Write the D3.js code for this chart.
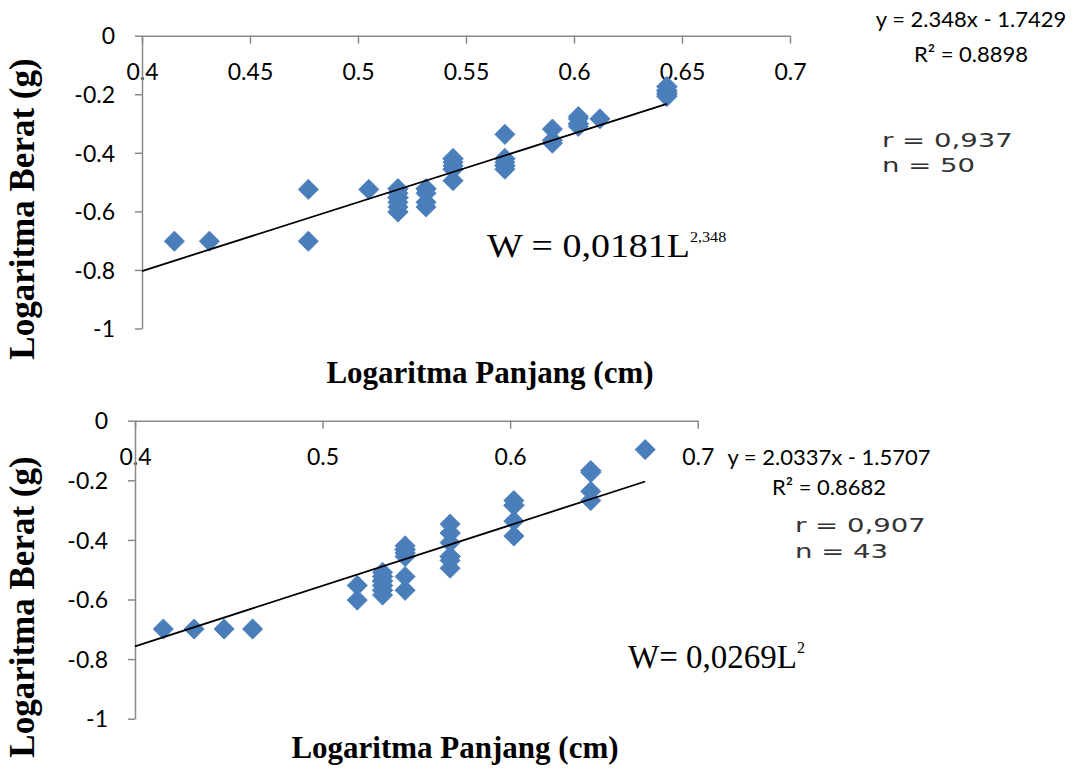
<!DOCTYPE html>
<html><head><meta charset="utf-8">
<script src="https://cdn.jsdelivr.net/npm/d3@7"></script>
<style>body{margin:0;background:#fff} svg{display:block;background:#fff}</style>
</head><body>
<svg id="c" width="1085" height="770"></svg>
<script>
// ---------- DATA ----------
const topLogL = [0.415,0.4312,0.477,0.477,0.505,
  0.5185,0.5185,0.5185,0.5185,0.5185,0.5185,0.5185,0.5185,0.5185,
  0.5315,0.5315,0.5315,0.5315,0.5315,
  0.544,0.544,0.544,0.544,0.544,0.544,0.544,
  0.568,0.568,0.568,0.568,0.568,0.568,0.568,
  0.590,0.590,0.590,
  0.602,0.602,0.602,0.602,0.602,
  0.612,
  0.643,0.643,0.643,0.643,0.643,0.643,0.643,0.643];
const topLogW = [-0.702,-0.702,-0.525,-0.702,-0.525,
  -0.523,-0.538,-0.553,-0.569,-0.585,-0.602,-0.523,-0.553,-0.602,
  -0.523,-0.538,-0.569,-0.585,-0.523,
  -0.42,-0.432,-0.444,-0.456,-0.495,-0.42,-0.456,
  -0.337,-0.42,-0.432,-0.444,-0.456,-0.42,-0.444,
  -0.319,-0.357,-0.367,
  -0.276,-0.284,-0.301,-0.31,-0.301,
  -0.284,
  -0.174,-0.187,-0.194,-0.201,-0.208,-0.187,-0.201,-0.174];
const botLogL = [0.4151,0.4315,0.4475,0.4627,
  0.5185,0.5185,
  0.532,0.532,0.532,0.532,0.532,0.532,0.532,0.532,0.532,0.532,
  0.544,0.544,0.544,0.544,0.544,0.544,0.544,0.544,
  0.568,0.568,0.568,0.568,0.568,0.568,0.568,0.568,
  0.602,0.602,0.602,0.602,0.602,
  0.643,0.643,0.643,0.643,0.643,
  0.672];
const botLogW = [-0.699,-0.699,-0.699,-0.699,
  -0.553,-0.602,
  -0.509,-0.523,-0.538,-0.553,-0.569,-0.585,-0.523,-0.538,-0.553,-0.569,
  -0.42,-0.432,-0.444,-0.456,-0.523,-0.569,-0.432,-0.444,
  -0.347,-0.377,-0.409,-0.456,-0.469,-0.495,-0.377,-0.456,
  -0.268,-0.284,-0.337,-0.387,-0.284,
  -0.168,-0.174,-0.237,-0.268,-0.168,
  -0.097];
const xTicksTop = [0.4,0.45,0.5,0.55,0.6,0.65,0.7];
const xTicksBot = [0.4,0.5,0.6,0.7];
const yTicks = [0,-0.2,-0.4,-0.6,-0.8,-1];
const topFit = {slope:2.348, intercept:-1.7429};
const botFit = {slope:2.0337, intercept:-1.5707};
const topTexts = ["y = 2.348x - 1.7429","R² = 0.8898","r = 0,937","n = 50"];
const botTexts = ["y = 2.0337x - 1.5707","R² = 0.8682","r = 0,907","n = 43"];

// ---------- DRAW ----------
const svg = d3.select("#c");
const diamond = {draw(ctx,size){const r=Math.sqrt(size/2);ctx.moveTo(0,-r);ctx.lineTo(r,0);ctx.lineTo(0,r);ctx.lineTo(-r,0);ctx.closePath();}};
const fmt = d => String(d);

function panel(o){
  const g = svg.append("g");
  const x = d3.scaleLinear().domain([0.4,0.7]).range([o.x0,o.x1]);
  const y = d3.scaleLinear().domain([-1,0]).range([o.y1,o.y0]);
  const xa = g.append("g").attr("transform",`translate(0,${y(0)})`)
    .call(d3.axisBottom(x).tickValues(o.xTicks).tickFormat(fmt).tickSize(8).tickSizeOuter(0).tickPadding(20));
  const ya = g.append("g").attr("transform",`translate(${x(0.4)},0)`)
    .call(d3.axisLeft(y).tickValues(yTicks).tickFormat(fmt).tickSize(7).tickSizeOuter(0).tickPadding(20));
  [xa,ya].forEach(a=>{
    a.selectAll(".domain,.tick line").attr("stroke","#898989").attr("stroke-width",1.5);
    a.selectAll("text").attr("font-family","Lato").attr("font-size",23).attr("fill","#000");
  });
  ya.selectAll("text").attr("dy","0.36em");
  const pts = o.L.map((v,i)=>[v,o.W[i]]);
  g.selectAll("path.pt").data(pts).enter().append("path").attr("class","pt")
    .attr("d",d3.symbol().type(diamond).size(205))
    .attr("transform",d=>`translate(${x(d[0])},${y(d[1])})`)
    .attr("fill","#4A7EBB").attr("stroke","#4F81BD").attr("stroke-width",0.8);
  const xs=[0.4,d3.max(o.L)];
  g.append("line").attr("x1",x(xs[0])).attr("y1",y(o.fit.slope*xs[0]+o.fit.intercept))
    .attr("x2",x(xs[1])).attr("y2",y(o.fit.slope*xs[1]+o.fit.intercept))
    .attr("stroke","#000").attr("stroke-width",1.8);
  // titles
  g.append("text").attr("transform",`translate(${o.ytx},${o.yty}) rotate(-90)`)
    .attr("text-anchor","middle").attr("font-family","Liberation Serif").attr("font-weight","bold")
    .attr("font-size",35).text("Logaritma Berat (g)");
  g.append("text").attr("x",o.xtx).attr("y",o.xty)
    .attr("text-anchor","middle").attr("font-family","Liberation Serif").attr("font-weight","bold")
    .attr("font-size",31).text("Logaritma Panjang (cm)");
  // regression texts
  g.append("text").attr("x",o.eqx).attr("y",o.eqy1).attr("text-anchor","middle")
    .attr("font-family","Lato").attr("font-size",22).text(o.texts[0]);
  g.append("text").attr("x",o.eqx).attr("y",o.eqy2).attr("text-anchor","middle")
    .attr("font-family","Lato").attr("font-size",22).text(o.texts[1]);
  [o.texts[2],o.texts[3]].forEach((t,i)=>{
    g.append("text").attr("transform",`translate(${o.rx},${o.ry[i]}) scale(1.45,1)`)
      .attr("font-family","DejaVu Sans").attr("font-size",19).attr("fill","#333").text(t);
  });
  const w = g.append("text").attr("transform",`translate(${o.wx},${o.wy}) scale(${o.wScale},1)`)
    .attr("font-family","Liberation Serif").attr("font-size",33).text(o.wMain);
  w.append("tspan").attr("dy",-15).attr("font-size",o.wSupSize).text(o.wSup);
}

panel({x0:142,x1:790,y0:35.7,y1:328.5,xTicks:xTicksTop,L:topLogL,W:topLogW,fit:topFit,
  ytx:34,yty:209,xtx:490,xty:383,texts:topTexts,eqx:971,eqy1:27,eqy2:62,rx:882,ry:[147,172],
  wx:487,wy:257,wMain:"W = 0,0181L",wSup:"2,348",wScale:1.15,wSupSize:14});
panel({x0:135,x1:697.7,y0:420.7,y1:718.7,xTicks:xTicksBot,L:botLogL,W:botLogW,fit:botFit,
  ytx:34,yty:607,xtx:455,xty:758,texts:botTexts,eqx:829,eqy1:465,eqy2:495,rx:795,ry:[532,558],
  wx:628,wy:668,wMain:"W= 0,0269L",wSup:"2",wScale:1,wSupSize:16});
</script>
</body></html>
